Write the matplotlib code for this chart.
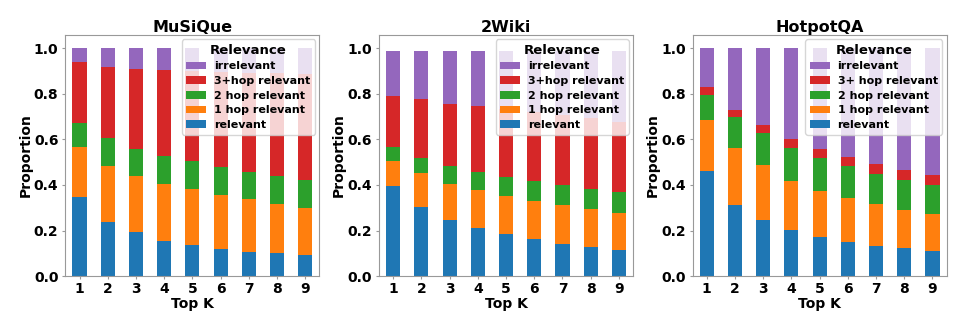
import numpy as np
import matplotlib
matplotlib.use("Agg")
import matplotlib.pyplot as plt

top_k = [1, 2, 3, 4, 5, 6, 7, 8, 9]

# MuSiQue proportions per relevance class
musique_relevant = [0.348, 0.239, 0.192, 0.155, 0.135, 0.120, 0.108, 0.100, 0.094]
musique_1hop = [0.220, 0.246, 0.246, 0.251, 0.247, 0.236, 0.230, 0.218, 0.206]
musique_2hop = [0.103, 0.121, 0.118, 0.122, 0.123, 0.124, 0.120, 0.121, 0.122]
musique_3hop = [0.266, 0.309, 0.352, 0.375, 0.393, 0.415, 0.434, 0.451, 0.465]
musique_irrelevant = [0.063, 0.085, 0.092, 0.097, 0.102, 0.105, 0.108, 0.110, 0.113]

# 2Wiki
wiki_relevant = [0.395, 0.305, 0.247, 0.213, 0.185, 0.161, 0.142, 0.127, 0.117]
wiki_1hop = [0.110, 0.147, 0.158, 0.165, 0.167, 0.170, 0.171, 0.167, 0.159]
wiki_2hop = [0.061, 0.066, 0.080, 0.078, 0.084, 0.087, 0.088, 0.088, 0.093]
wiki_3hop = [0.224, 0.261, 0.272, 0.288, 0.295, 0.300, 0.304, 0.310, 0.308]
wiki_irrelevant = [0.198, 0.209, 0.231, 0.244, 0.257, 0.270, 0.283, 0.296, 0.311]

# HotpotQA
hotpot_relevant = [0.460, 0.313, 0.246, 0.202, 0.171, 0.151, 0.133, 0.123, 0.111]
hotpot_1hop = [0.224, 0.249, 0.242, 0.215, 0.204, 0.190, 0.182, 0.168, 0.163]
hotpot_2hop = [0.110, 0.135, 0.139, 0.147, 0.143, 0.142, 0.134, 0.132, 0.124]
hotpot_3hop = [0.035, 0.032, 0.036, 0.038, 0.040, 0.040, 0.043, 0.041, 0.044]
hotpot_irrelevant = [0.171, 0.271, 0.337, 0.398, 0.442, 0.477, 0.508, 0.536, 0.558]

colors = ["#1f77b4", "#ff7f0e", "#2ca02c", "#d62728", "#9467bd"]

panels = [
    ("MuSiQue", [musique_relevant, musique_1hop, musique_2hop, musique_3hop, musique_irrelevant],
     ["relevant", "1 hop relevant", "2 hop relevant", "3+hop relevant", "irrelevant"]),
    ("2Wiki", [wiki_relevant, wiki_1hop, wiki_2hop, wiki_3hop, wiki_irrelevant],
     ["relevant", "1 hop relevant", "2 hop relevant", "3+hop relevant", "irrelevant"]),
    ("HotpotQA", [hotpot_relevant, hotpot_1hop, hotpot_2hop, hotpot_3hop, hotpot_irrelevant],
     ["relevant", "1 hop relevant", "2 hop relevant", "3+ hop relevant", "irrelevant"]),
]

fig = plt.figure(figsize=(9.62, 3.32), dpi=100)
lefts = [0.068, 0.394, 0.72]
width = 0.264

x = np.arange(len(top_k))
for (title, series, labels), left in zip(panels, lefts):
    ax = fig.add_axes([left, 0.168, width, 0.727])
    bottom = np.zeros(len(top_k))
    for vals, lab, col in zip(series, labels, colors):
        ax.bar(x, vals, 0.5, bottom=bottom, color=col, label=lab)
        bottom += np.array(vals)
    ax.set_xlim(-0.5, len(top_k) - 0.5)
    ax.set_ylim(0, 1.058)
    ax.set_xticks(x)
    ax.set_xticklabels([str(k) for k in top_k], rotation=0)
    ax.set_yticks([0, 0.2, 0.4, 0.6, 0.8, 1.0])
    ax.set_yticklabels(["0.0", "0.2", "0.4", "0.6", "0.8", "1.0"])
    ax.tick_params(axis="x", length=2.5, pad=1.5, color="#999999")
    ax.tick_params(axis="y", length=2.5, pad=2.5, color="#999999")
    for t in ax.get_xticklabels() + ax.get_yticklabels():
        t.set_fontweight("bold")
        t.set_fontsize(10)
    ax.set_title(title, fontsize=11.5, fontweight="bold", pad=2)
    ax.set_xlabel("Top K", fontsize=10, fontweight="bold", labelpad=1)
    ax.set_ylabel("Proportion", fontsize=10, fontweight="bold", labelpad=1)
    for s in ax.spines.values():
        s.set_color("#999999")
    h, l = ax.get_legend_handles_labels()
    leg = ax.legend(h[::-1], l[::-1], title="Relevance", loc="upper right",
                    prop={"weight": "bold", "size": 8}, borderaxespad=0.4,
                    handlelength=1.8, handletextpad=0.7, labelspacing=0.42)
    leg.get_title().set_fontweight("bold")
    leg.get_title().set_fontsize(9.5)

fig.savefig("out.png", dpi=100)
